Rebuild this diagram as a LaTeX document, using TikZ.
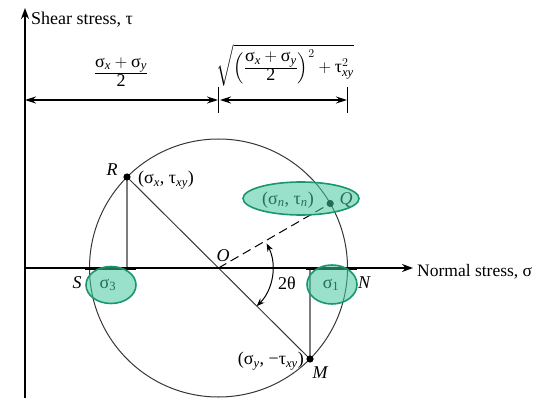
\documentclass[tikz,border=0pt]{standalone}
\usepackage{amsmath}
\usepackage{fontspec}
\setmainfont{Liberation Serif}
\usetikzlibrary{arrows.meta,calc}
\definecolor{tealfill}{RGB}{70,200,160}
\definecolor{tealline}{RGB}{25,150,110}
\definecolor{circcol}{RGB}{55,55,55}
\definecolor{projcol}{RGB}{125,125,125}
\newcommand{\mysig}{\text{σ}}
\newcommand{\mytau}{\text{τ}}
\newcommand{\iv}[1]{\text{\itshape #1}}
\newcommand{\cfracsum}{\textstyle\frac{\displaystyle\mysig_{\iv{x}}+\mysig_{\iv{y}}}{\displaystyle \text{2}}}
\begin{document}
\begin{tikzpicture}[x=1pt,y=-1pt,
  font=\fontsize{18}{20}\selectfont,
  axisline/.style={line width=1.8pt,-{Stealth[length=11pt,width=8pt]}},
  dimline/.style={line width=1.2pt,{Stealth[length=11pt,width=7pt]}-{Stealth[length=11pt,width=7pt]}},
  tickline/.style={line width=0.9pt},
  circline/.style={draw=circcol,line width=1pt},
  projline/.style={draw=projcol,line width=1.4pt},
  thickseg/.style={line width=3pt},
  anglearc/.style={line width=1pt,{Stealth[length=8pt,width=6pt]}-{Stealth[length=8pt,width=6pt]}},
  hlfill/.style={draw=tealline,line width=1.6pt,fill=tealfill,fill opacity=0.55},
  ptlbl/.style={inner sep=0pt,font=\fontsize{18}{20}\selectfont\itshape},
  txtlbl/.style={inner sep=0pt},
  mathlbl/.style={inner sep=0pt,font=\fontsize{18}{20}\selectfont},
  dot/.style={fill=black}
]
\useasboundingbox (0,0) rectangle (551,398);
% key points
\coordinate (O) at (218.5,268);
\coordinate (R) at (127,177);
\coordinate (M) at (310,359);
\coordinate (Q) at (330.2,203.5);
\coordinate (vbot) at (25,398);
\coordinate (vtop) at (25,8);
\coordinate (hstart) at (25,268);
\coordinate (hend) at (413,268);
\coordinate (Rp) at (R |- O);
\coordinate (Mp) at (M |- O);
% dimension coordinates
\coordinate (dA) at (25,100);
\coordinate (dB) at (218,100);
\coordinate (dC) at (220,100);
\coordinate (dD) at (347,100);
\coordinate (tBt) at (218,87);
\coordinate (tBb) at (218,113);
\coordinate (tDt) at (347,87);
\coordinate (tDb) at (347,113);
% circle and lines
\draw[circline] (O) circle[radius=129];
\draw[projline] (R) -- (Rp);
\draw[projline] (M) -- (Mp);
\draw[circline] (R) -- (M);
\draw[line width=1pt,dash pattern=on 9pt off 5pt] (O) -- (Q);
% axes
\draw[axisline] (vbot) -- (vtop);
\draw[axisline] (hstart) -- (hend);
\draw[thickseg] (85,268) -- (136,268);
\draw[thickseg] (306,268) -- (357,268);
% angle
\draw[anglearc] ([shift={(45:54)}]O) arc[start angle=45,end angle=-27,radius=54];
% dimensions
\draw[dimline] (dA) -- (dB);
\draw[dimline] (dC) -- (dD);
\draw[tickline] (tBt) -- (tBb);
\draw[tickline] (tDt) -- (tDb);
% dots
\fill[dot] (R) circle[radius=3.6];
\fill[dot] (M) circle[radius=3.6];
\fill[dot] (Q) circle[radius=3.6];
% texts
\node[txtlbl,anchor=base west] (shear) at (31,25) {Shear stress, τ};
\node[txtlbl,anchor=base west,font=\fontsize{17.5}{20}\selectfont] (normal) at (417,276) {Normal stress, σ};
\node[mathlbl] (frac1) at (121,72) {$\cfracsum$};
\node[mathlbl,anchor=north] (sqrtx) at (285,44) {$\sqrt{\Bigl(\cfracsum\Bigr)^{2}+\mytau_{\iv{xy}}^{2}}$};
\node[ptlbl] (lR) at (112,170) {R};
\node[txtlbl,anchor=west] (lRc) at (138,180) {(σ\textsubscript{\itshape x}, τ\textsubscript{\itshape xy})};
\node[ptlbl] (lO) at (223,256) {O};
\node[ptlbl] (lQ) at (346,200) {Q};
\node[txtlbl] (lQc) at (288,200) {(σ\textsubscript{\itshape n}, τ\textsubscript{\itshape n})};
\node[ptlbl] (lS) at (77,283) {S};
\node[txtlbl] (ls3) at (108,285) {σ\textsubscript{3}};
\node[txtlbl] (ls1) at (331,285) {σ\textsubscript{1}};
\node[ptlbl] (lN) at (364,283) {N};
\node[txtlbl] (l2t) at (287,283) {2θ};
\node[txtlbl,anchor=east] (lMc) at (304,361) {(σ\textsubscript{\itshape y}, −τ\textsubscript{\itshape xy})};
\node[ptlbl] (lM) at (320,373) {M};
% highlight ellipses
\draw[hlfill] (301,198.5) ellipse[x radius=58,y radius=16.5];
\draw[hlfill] (111,285) ellipse[x radius=25,y radius=18.5];
\draw[hlfill] (332,284.5) ellipse[x radius=25,y radius=19.5];
\end{tikzpicture}
\end{document}
